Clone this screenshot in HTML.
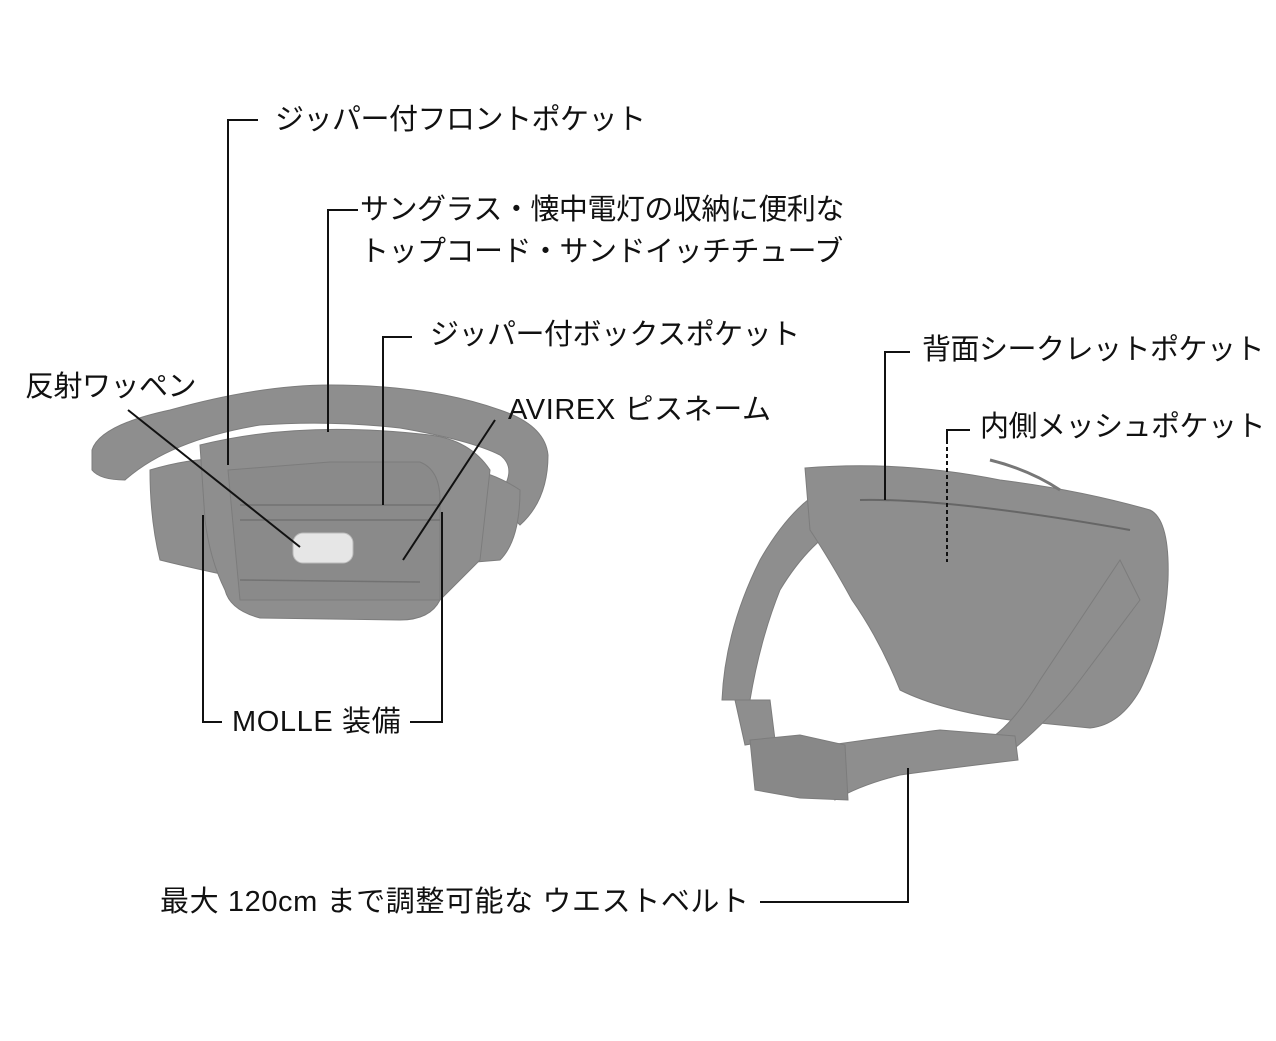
<!DOCTYPE html>
<html><head><meta charset="utf-8"><style>
html,body{margin:0;padding:0;background:#fff;}
body{width:1276px;height:1041px;position:relative;overflow:hidden;font-family:"Liberation Sans","Noto Sans CJK JP",sans-serif;color:#111;}
.t{position:absolute;font-size:29px;line-height:34px;white-space:nowrap;letter-spacing:-0.5px;}
.l{letter-spacing:0.6px;}
svg{position:absolute;left:0;top:0;}
</style></head><body>
<svg width="1276" height="1041" viewBox="0 0 1276 1041">
<!-- left bag -->
<g fill="#8e8e8e" stroke="#7c7c7c" stroke-width="1">
<path d="M92,450 Q100,425 170,410 Q260,385 330,385 Q430,385 500,410 Q545,425 548,455 Q548,500 520,525 L495,500 Q520,470 500,455 Q470,440 400,428 Q330,420 260,425 Q170,440 125,480 Q100,480 92,470 Z"/>
<path d="M150,470 Q200,455 240,460 L250,580 Q200,570 160,560 Q150,520 150,470 Z"/>
<path d="M450,465 Q490,470 520,490 Q520,540 500,560 L440,565 Z"/>
<path d="M200,445 Q300,420 430,435 Q470,440 490,470 L480,560 Q460,580 440,600 Q430,620 400,620 L260,618 Q230,610 225,590 Q210,560 205,520 Z"/>
<path d="M228,470 L330,462 L420,462 Q440,470 440,500 L440,600 L240,600 Z" fill="#8a8a8a"/>
</g>
<g stroke="#727272" stroke-width="1.5" fill="none">
<path d="M240,505 L440,505"/><path d="M240,520 L440,520"/><path d="M240,580 L420,582"/>
</g>
<rect x="293" y="533" width="60" height="30" rx="10" fill="#e6e6e6" stroke="#bbb"/>
<!-- right bag -->
<g fill="#8e8e8e" stroke="#7c7c7c" stroke-width="1">
<path d="M848,480 Q800,490 760,560 Q725,630 722,700 L750,700 Q760,640 780,590 Q810,540 850,520 Z"/>
<path d="M805,468 Q900,460 1000,480 Q1080,490 1150,510 Q1170,520 1168,580 Q1165,640 1140,690 Q1120,725 1090,728 L1010,720 Q940,710 900,690 Q880,640 852,600 Q830,560 810,530 Z"/>
<path d="M1120,560 Q1080,620 1040,680 Q1010,730 980,745 L1010,752 Q1050,720 1080,680 Q1110,640 1140,600 Z"/>
<path d="M735,700 L770,700 L775,740 L745,745 Z"/>
<path d="M830,745 Q900,735 940,730 L1015,736 L1018,760 Q950,768 900,775 Q860,785 835,800 Z"/>
<path d="M750,740 L800,735 L845,745 L848,800 L800,798 L755,790 Z" fill="#888"/>
</g>
<path d="M860,500 Q950,498 1130,530" stroke="#666" stroke-width="2" fill="none"/>
<path d="M990,460 Q1030,470 1060,490" stroke="#777" stroke-width="3" fill="none"/>
<!-- leaders -->
<g stroke="#111" stroke-width="2" fill="none">
<path d="M258,120 H228 V465"/>
<path d="M358,210 H328 V432"/>
<path d="M412,337 H383 V505"/>
<path d="M128,410 L300,547"/>
<path d="M495,420 L403,560"/>
<path d="M222,722 H203 V515"/>
<path d="M410,722 H442 V512"/>
<path d="M910,352 H885 V500"/>
<path d="M970,430 H947 V440"/>
<path d="M947,440 V562" stroke-dasharray="4,3"/>
<path d="M760,902 H908 V768"/>
</g>
</svg>
<div class="t" style="left:275px;top:103px">ジッパー付フロントポケット</div>
<div class="t" style="left:360px;top:193px">サングラス・懐中電灯の収納に便利な</div>
<div class="t" style="left:360px;top:235px">トップコード・サンドイッチチューブ</div>
<div class="t" style="left:430px;top:318px">ジッパー付ボックスポケット</div>
<div class="t" style="left:25px;top:370px">反射ワッペン</div>
<div class="t l" style="left:508px;top:393px">AVIREX ピスネーム</div>
<div class="t l" style="left:232px;top:705px">MOLLE 装備</div>
<div class="t" style="left:922px;top:333px">背面シークレットポケット</div>
<div class="t" style="left:980px;top:410px">内側メッシュポケット</div>
<div class="t l" style="left:160px;top:885px">最大 120cm まで調整可能な ウエストベルト</div>
</body></html>
